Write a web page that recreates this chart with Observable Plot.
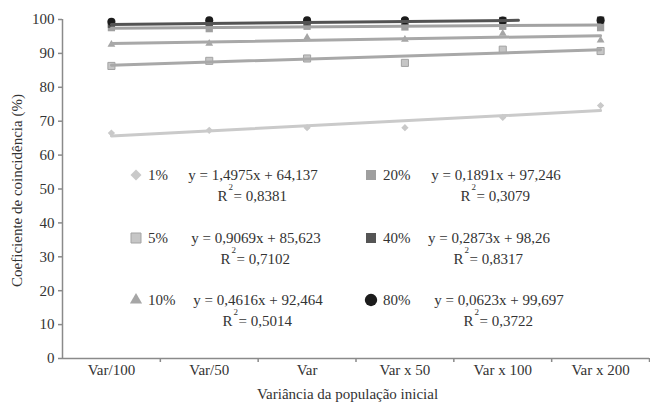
<!DOCTYPE html>
<html><head><meta charset="utf-8">
<script src="https://cdn.jsdelivr.net/npm/d3@7"></script>
<script src="https://cdn.jsdelivr.net/npm/@observablehq/plot@0.6"></script>
<style>
body{margin:0;background:#fff}
</style>
</head><body><div id="chart"></div>
<script>
const categories = ["Var/100", "Var/50", "Var", "Var x 50", "Var x 100", "Var x 200"];
const seriesNames = ["1%", "5%", "10%", "20%", "40%", "80%"];
const values1 = [66.5, 67.3, 68.1, 68.1, 71.1, 74.6];
const values5 = [86.3, 87.8, 88.5, 87.2, 91.1, 90.7];
const values10 = [92.6, 92.9, 94.7, 94.1, 95.9, 93.9];
const values20 = [97.6, 97.3, 98.0, 97.8, 98.0, 97.6];
const values40 = [98.6, 98.9, 99.1, 99.4, 99.7, 99.8];
const values80 = [99.3, 99.8, 99.8, 99.8, 99.7, 99.8];
const slopes = [1.4975, 0.9069, 0.4616, 0.1891, 0.2873, 0.0623];
const intercepts = [64.137, 85.623, 92.464, 97.246, 98.26, 99.697];
const r2 = ["0,8381", "0,7102", "0,5014", "0,3079", "0,8317", "0,3722"];
const trendTo = [6, 6, 6, 6, 5.16, null];
const yTicks = [0, 10, 20, 30, 40, 50, 60, 70, 80, 90, 100];

const allValues = [values1, values5, values10, values20, values40, values80];

// styles
const W = 650, H = 403, ML = 62, MR = 1, MT = 19, MB = 45;
const FONT = '"Liberation Serif", "Times New Roman", Times, serif';
const TXT = "#333";
const AX = "#8a8a8a";
const symbols = ["square", "square", "triangle", "square", "square", "circle"];
const rotations = [45, 0, 0, 0, 0, 0];
const fills = ["#c9c9c9", "#c6c6c6", "#a6a6a6", "#9f9f9f", "#555555", "#1c1c1c"];
const strokes = ["none", "#a3a3a3", "none", "none", "none", "none"];
const radii = [2.9, 4.0, 2.9, 4.1, 4.1, 4.0];
const lineColors = ["#cacaca", "#a8a8a8", "#a8a8a8", "#a2a2a2", "#535353", "#1c1c1c"];

const fmt = n => String(n).replace(".", ",");
const eqText = i => `y = ${fmt(slopes[i])}x + ${fmt(intercepts[i])}`;

const pointMarks = allValues.map((vals, i) =>
  Plot.dot(vals.map((v, j) => ({x: j + 1, y: v})), {
    x: "x", y: "y", symbol: () => symbols[i], r: radii[i], rotate: rotations[i],
    fill: fills[i], stroke: strokes[i], strokeWidth: 1
  })
);

const trendMarks = [];
seriesNames.forEach((s, i) => {
  if (trendTo[i] == null) return;
  const xs = [1, trendTo[i]];
  trendMarks.push(Plot.line(xs.map(x => ({x, y: slopes[i] * x + intercepts[i]})), {
    x: "x", y: "y", stroke: lineColors[i], strokeWidth: 3
  }));
});

const boundaries = d3.range(categories.length).map(i => i + 1.5);

const chart = Plot.plot({
  width: W, height: H, marginLeft: ML, marginRight: MR, marginTop: MT, marginBottom: MB,
  x: {domain: [0.5, categories.length + 0.5]},
  y: {domain: [0, 100]},
  style: {fontFamily: FONT, fontSize: "15px", color: TXT, background: "#fff", overflow: "visible"},
  marks: [
    Plot.axisY({ticks: yTicks, tickSize: 4, tickPadding: 4, stroke: AX, fill: TXT, label: null, strokeWidth: 1.5}),
    Plot.axisX({ticks: boundaries, tickSize: 4, tickFormat: () => "", stroke: AX, label: null, strokeWidth: 1.5}),
    Plot.axisX({ticks: d3.range(1, categories.length + 1), tickSize: 0, tickPadding: 6,
      tickFormat: i => categories[i - 1], fill: TXT, label: null}),
    Plot.ruleX([0.5], {stroke: AX, strokeWidth: 1.5}),
    Plot.ruleY([0], {stroke: AX, strokeWidth: 1.5}),
    ...pointMarks,
    ...trendMarks,
    Plot.text(["Variância da população inicial"], {frameAnchor: "bottom", dy: 36, dx: -8.5, lineAnchor: "middle", textAnchor: "middle", fill: TXT}),
    Plot.text(["Coeficiente de coincidência (%)"], {frameAnchor: "left", dx: -45, dy: 1.5, rotate: -90, lineAnchor: "middle", textAnchor: "middle", fill: TXT})
  ]
});
document.getElementById("chart").appendChild(chart);

// Legend (in-plot, Excel style)
const legendSymX = [136, 371];
const legendLabelX = [148, 383];
const legendRowY = [175, 238, 300];
const legendEqX = [253, 256, 258, 496, 489, 499];
const legendSymSize = [60, 100, 64, 100, 100, 120];

const svg = d3.select(chart.tagName.toLowerCase() === "svg" ? chart : chart.querySelector("svg"));
const g = svg.append("g").attr("font-family", FONT).attr("font-size", 15).attr("fill", TXT).attr("text-anchor", "start");
const symType = {square: d3.symbolSquare, triangle: d3.symbolTriangle, circle: d3.symbolCircle};
seriesNames.forEach((name, i) => {
  const col = Math.floor(i / 3), row = i % 3;
  const y = legendRowY[row];
  const c = legendEqX[i] - 1.5;
  g.append("path")
    .attr("d", d3.symbol(symType[symbols[i]], legendSymSize[i])())
    .attr("transform", `translate(${legendSymX[col]},${y}) rotate(${rotations[i]})`)
    .attr("fill", fills[i]).attr("stroke", strokes[i]).attr("stroke-width", 1);
  g.append("text").attr("x", legendLabelX[col]).attr("y", y).attr("dy", "0.32em")
    .attr("text-anchor", "start").text(name);
  g.append("text").attr("x", legendEqX[i]).attr("y", y).attr("dy", "0.32em")
    .attr("text-anchor", "middle").text(eqText(i));
  g.append("text").attr("x", c - 24).attr("y", y + 21).attr("dy", "0.32em")
    .attr("text-anchor", "end").text("R");
  g.append("text").attr("x", c - 23).attr("y", y + 12).attr("dy", "0.32em")
    .attr("text-anchor", "start").attr("font-size", 9).text("2");
  g.append("text").attr("x", c - 18).attr("y", y + 21).attr("dy", "0.32em")
    .attr("text-anchor", "start").text(`= ${r2[i]}`);
});
</script>
</body></html>
